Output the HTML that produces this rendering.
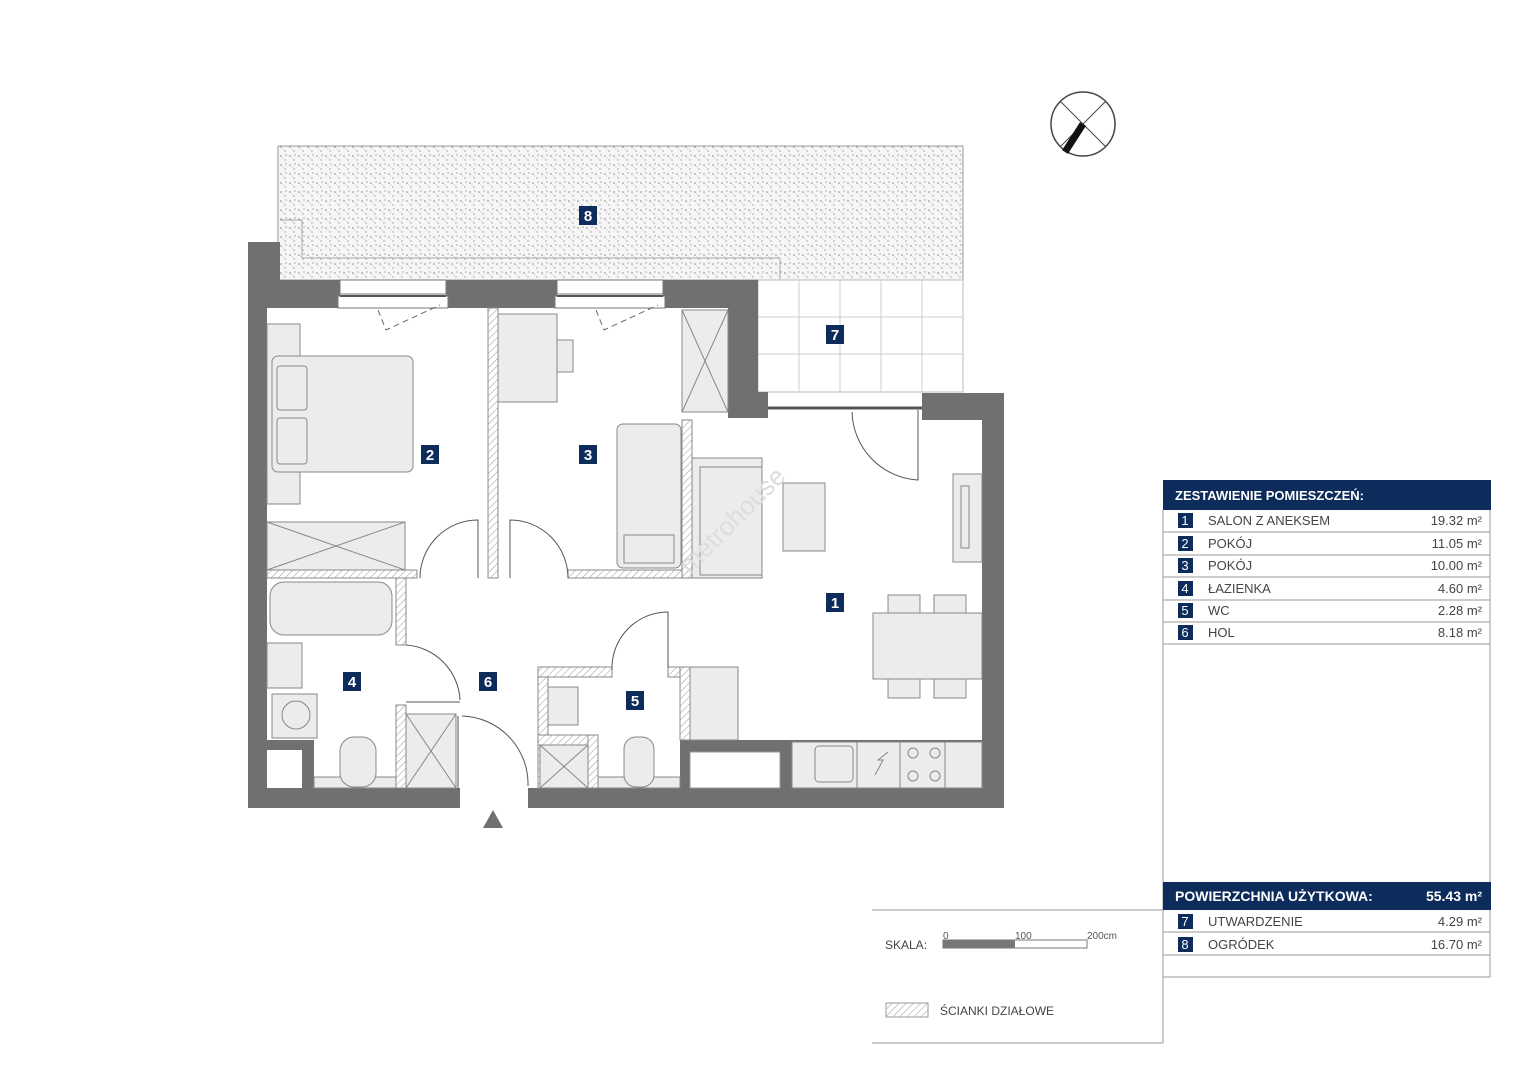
<!DOCTYPE html>
<html><head><meta charset="utf-8"><style>
body{margin:0;background:#fff}
svg text{font-family:"Liberation Sans","DejaVu Sans",sans-serif}
</style></head><body>
<svg width="1527" height="1080" viewBox="0 0 1527 1080" xmlns="http://www.w3.org/2000/svg">
<defs>
<pattern id="h" width="5" height="5" patternUnits="userSpaceOnUse" patternTransform="rotate(45)"><rect width="5" height="5" fill="#fff"/><line x1="0" y1="0" x2="0" y2="5" stroke="#999" stroke-width="1"/></pattern>
<pattern id="dots" width="9" height="9" patternUnits="userSpaceOnUse"><rect width="9" height="9" fill="#f6f6f6"/><circle cx="2" cy="3" r=".8" fill="#888"/><circle cx="6" cy="7" r=".7" fill="#999"/><circle cx="7" cy="2" r=".6" fill="#777"/><circle cx="4" cy="5" r=".5" fill="#aaa"/></pattern>
</defs>
<rect width="1527" height="1080" fill="#fff"/>
<rect x="278" y="146" width="685" height="134" fill="url(#dots)" stroke="#999"/>
<polyline points="302,258 302,220 280,220" fill="none" stroke="#aaa"/>
<line x1="302" y1="258" x2="780" y2="258" stroke="#aaa"/>
<line x1="780" y1="258" x2="780" y2="280" stroke="#aaa"/>
<rect x="758" y="280" width="205" height="112" fill="#fff" stroke="#bbb"/>
<g stroke="#ccc"><line x1="799" y1="280" x2="799" y2="392"/><line x1="840" y1="280" x2="840" y2="392"/><line x1="881" y1="280" x2="881" y2="392"/><line x1="922" y1="280" x2="922" y2="392"/><line x1="758" y1="317" x2="963" y2="317"/><line x1="758" y1="354" x2="963" y2="354"/></g>
<g fill="#707070">
<rect x="248" y="242" width="32" height="38"/>
<rect x="248" y="280" width="19" height="528"/>
<rect x="248" y="280" width="92" height="28"/>
<rect x="446" y="280" width="111" height="28"/>
<rect x="663" y="280" width="95" height="28"/>
<rect x="728" y="280" width="30" height="138"/>
<rect x="758" y="392" width="10" height="26"/>
<rect x="922" y="393" width="82" height="27"/>
<rect x="982" y="393" width="22" height="415"/>
<rect x="248" y="788" width="212" height="20"/>
<rect x="528" y="788" width="476" height="20"/>
<rect x="248" y="740" width="66" height="48"/>
<rect x="680" y="740" width="302" height="48"/>
</g>
<rect x="267" y="750" width="35" height="38" fill="#fff"/>
<rect x="690" y="752" width="90" height="36" fill="#fff" stroke="#999"/>
<g fill="#fff" stroke="#777"><rect x="340" y="280" width="106" height="14"/><rect x="338" y="296" width="110" height="12"/><rect x="557" y="280" width="106" height="14"/><rect x="555" y="296" width="110" height="12"/></g>
<line x1="340" y1="296" x2="446" y2="296" stroke="#555" stroke-width="2"/><line x1="557" y1="296" x2="663" y2="296" stroke="#555" stroke-width="2"/>
<path d="M378 310 L386 330 L440 305 M596 310 L604 330 L658 305" fill="none" stroke="#666" stroke-dasharray="6,4"/>
<line x1="768" y1="408" x2="922" y2="408" stroke="#555" stroke-width="3"/>
<path d="M918 410 L918 480 A70 70 0 0 1 852 412" fill="none" stroke="#555"/>
<g fill="url(#h)" stroke="#888">
<rect x="488" y="308" width="10" height="270"/>
<rect x="267" y="570" width="150" height="8"/>
<rect x="568" y="570" width="120" height="8"/>
<rect x="682" y="420" width="10" height="158"/>
<rect x="396" y="578" width="10" height="67"/>
<rect x="396" y="705" width="10" height="83"/>
<rect x="538" y="667" width="10" height="121"/>
<rect x="538" y="667" width="74" height="10"/>
<rect x="668" y="667" width="22" height="10"/>
<rect x="680" y="667" width="10" height="73"/>
<rect x="538" y="735" width="60" height="10"/>
<rect x="588" y="735" width="10" height="53"/>
</g>
<g fill="#ececec" stroke="#888">
<rect x="267" y="324" width="33" height="180"/>
<rect x="272" y="356" width="141" height="116" rx="6"/>
<rect x="277" y="366" width="30" height="44" rx="3"/><rect x="277" y="418" width="30" height="46" rx="3"/>
<rect x="267" y="522" width="138" height="48"/>
<rect x="498" y="314" width="59" height="88"/><rect x="557" y="340" width="16" height="32"/>
<rect x="682" y="310" width="46" height="102"/>
<rect x="617" y="424" width="64" height="144" rx="6"/><rect x="624" y="535" width="50" height="28"/>
<rect x="692" y="458" width="70" height="120"/><rect x="700" y="467" width="62" height="108"/>
<rect x="783" y="483" width="42" height="68"/>
<rect x="953" y="474" width="29" height="88"/><rect x="961" y="486" width="8" height="62"/>
<rect x="888" y="595" width="32" height="20"/><rect x="934" y="595" width="32" height="20"/>
<rect x="888" y="678" width="32" height="20"/><rect x="934" y="678" width="32" height="20"/>
<rect x="873" y="613" width="109" height="66"/>
<rect x="270" y="582" width="122" height="53" rx="14"/>
<rect x="267" y="643" width="35" height="45"/>
<rect x="272" y="694" width="45" height="44"/>
<rect x="314" y="777" width="82" height="11"/>
<rect x="340" y="737" width="36" height="50" rx="14"/>
<rect x="406" y="714" width="50" height="74"/>
<rect x="548" y="687" width="30" height="38"/>
<rect x="540" y="745" width="48" height="43"/>
<rect x="598" y="777" width="82" height="11"/>
<rect x="624" y="737" width="30" height="50" rx="12"/>
<rect x="690" y="667" width="48" height="73"/>
<rect x="792" y="742" width="190" height="46"/>
<rect x="815" y="746" width="38" height="36" rx="4"/>
</g>
<circle cx="296" cy="715" r="14" fill="none" stroke="#888"/>
<g stroke="#888" fill="none">
<line x1="267" y1="522" x2="405" y2="570"/><line x1="405" y1="522" x2="267" y2="570"/>
<line x1="682" y1="310" x2="728" y2="412"/><line x1="728" y1="310" x2="682" y2="412"/>
<line x1="406" y1="714" x2="456" y2="788"/><line x1="456" y1="714" x2="406" y2="788"/>
<line x1="540" y1="745" x2="588" y2="788"/><line x1="588" y1="745" x2="540" y2="788"/>
<circle cx="913" cy="753" r="5"/><circle cx="935" cy="753" r="5"/><circle cx="913" cy="776" r="5"/><circle cx="935" cy="776" r="5"/>
<line x1="900" y1="742" x2="900" y2="788"/><line x1="945" y1="742" x2="945" y2="788"/><line x1="857" y1="742" x2="857" y2="788"/>
<polyline points="875,775 883,760 878,760 888,752"/>
</g>
<g fill="none" stroke="#555">
<path d="M420 578 A58 58 0 0 1 478 520 L478 578"/>
<path d="M568 578 A58 58 0 0 0 510 520 L510 578"/>
<path d="M406 645 A58 58 0 0 1 460 700"/><line x1="406" y1="702" x2="460" y2="702"/>
<path d="M462 716 A68 68 0 0 1 528 786"/><line x1="458" y1="716" x2="458" y2="790"/>
<path d="M612 670 A56 56 0 0 1 668 612 L668 667"/>
</g>
<polygon points="483,828 503,828 493,810" fill="#707070"/>
<text x="690" y="575" font-size="26" fill="#ddd" transform="rotate(-45 690 575)">metrohouse</text>
<g font-size="15" font-weight="bold" fill="#fff" text-anchor="middle">
<rect x="579" y="206" width="18" height="19" fill="#0d2b5b"/><text x="588" y="221">8</text>
<rect x="826" y="325" width="18" height="19" fill="#0d2b5b"/><text x="835" y="340">7</text>
<rect x="421" y="445" width="18" height="19" fill="#0d2b5b"/><text x="430" y="460">2</text>
<rect x="579" y="445" width="18" height="19" fill="#0d2b5b"/><text x="588" y="460">3</text>
<rect x="826" y="593" width="18" height="19" fill="#0d2b5b"/><text x="835" y="608">1</text>
<rect x="343" y="672" width="18" height="19" fill="#0d2b5b"/><text x="352" y="687">4</text>
<rect x="479" y="672" width="18" height="19" fill="#0d2b5b"/><text x="488" y="687">6</text>
<rect x="626" y="691" width="18" height="19" fill="#0d2b5b"/><text x="635" y="706">5</text>
</g>
<circle cx="1083" cy="124" r="32" fill="#fff" stroke="#444" stroke-width="1.5"/>
<line x1="1060" y1="101" x2="1106" y2="147" stroke="#444"/>
<line x1="1106" y1="101" x2="1060" y2="147" stroke="#444"/>
<line x1="1083" y1="124" x2="1065" y2="152" stroke="#111" stroke-width="7"/>
<rect x="1163" y="480" width="328" height="30" fill="#0d2b5b"/>
<text x="1175" y="500" font-size="13" font-weight="bold" fill="#fff">ZESTAWIENIE POMIESZCZEŃ:</text>
<g stroke="#999"><line x1="1163" y1="510" x2="1163" y2="1043"/><line x1="1490" y1="510" x2="1490" y2="977"/>
<line x1="1163" y1="532" x2="1490" y2="532"/><line x1="1163" y1="555" x2="1490" y2="555"/><line x1="1163" y1="577" x2="1490" y2="577"/><line x1="1163" y1="600" x2="1490" y2="600"/><line x1="1163" y1="622" x2="1490" y2="622"/><line x1="1163" y1="644" x2="1490" y2="644"/>
<line x1="1163" y1="932" x2="1490" y2="932"/><line x1="1163" y1="955" x2="1490" y2="955"/><line x1="1163" y1="977" x2="1490" y2="977"/>
<line x1="872" y1="910" x2="1163" y2="910"/><line x1="872" y1="1043" x2="1163" y2="1043"/></g>
<g font-size="13" fill="#444">
<g fill="#0d2b5b"><rect x="1178" y="513" width="15" height="15"/><rect x="1178" y="536" width="15" height="15"/><rect x="1178" y="558" width="15" height="15"/><rect x="1178" y="581" width="15" height="15"/><rect x="1178" y="603" width="15" height="15"/><rect x="1178" y="625" width="15" height="15"/><rect x="1178" y="914" width="15" height="15"/><rect x="1178" y="937" width="15" height="15"/></g>
<g fill="#fff" text-anchor="middle"><text x="1185" y="525">1</text><text x="1185" y="548">2</text><text x="1185" y="570">3</text><text x="1185" y="593">4</text><text x="1185" y="615">5</text><text x="1185" y="637">6</text><text x="1185" y="926">7</text><text x="1185" y="949">8</text></g>
<text x="1208" y="525">SALON Z ANEKSEM</text><text x="1208" y="548">POKÓJ</text><text x="1208" y="570">POKÓJ</text><text x="1208" y="593">ŁAZIENKA</text><text x="1208" y="615">WC</text><text x="1208" y="637">HOL</text>
<text x="1208" y="926">UTWARDZENIE</text><text x="1208" y="949">OGRÓDEK</text>
<g text-anchor="end"><text x="1482" y="525">19.32 m²</text><text x="1482" y="548">11.05 m²</text><text x="1482" y="570">10.00 m²</text><text x="1482" y="593">4.60 m²</text><text x="1482" y="615">2.28 m²</text><text x="1482" y="637">8.18 m²</text><text x="1482" y="926">4.29 m²</text><text x="1482" y="949">16.70 m²</text></g>
</g>
<rect x="1163" y="882" width="328" height="28" fill="#0d2b5b"/>
<text x="1175" y="901" font-size="14" font-weight="bold" fill="#fff">POWIERZCHNIA UŻYTKOWA:</text>
<text x="1482" y="901" font-size="14" font-weight="bold" fill="#fff" text-anchor="end">55.43 m²</text>
<text x="885" y="949" font-size="12" fill="#444">SKALA:</text>
<rect x="943" y="940" width="144" height="8" fill="#fff" stroke="#777"/>
<rect x="943" y="940" width="72" height="8" fill="#777"/>
<g font-size="10" fill="#555"><text x="943" y="939">0</text><text x="1015" y="939">100</text><text x="1087" y="939">200cm</text></g>
<rect x="886" y="1003" width="42" height="14" fill="url(#h)" stroke="#999"/>
<text x="940" y="1015" font-size="12" fill="#444">ŚCIANKI DZIAŁOWE</text>
</svg>
</body></html>
